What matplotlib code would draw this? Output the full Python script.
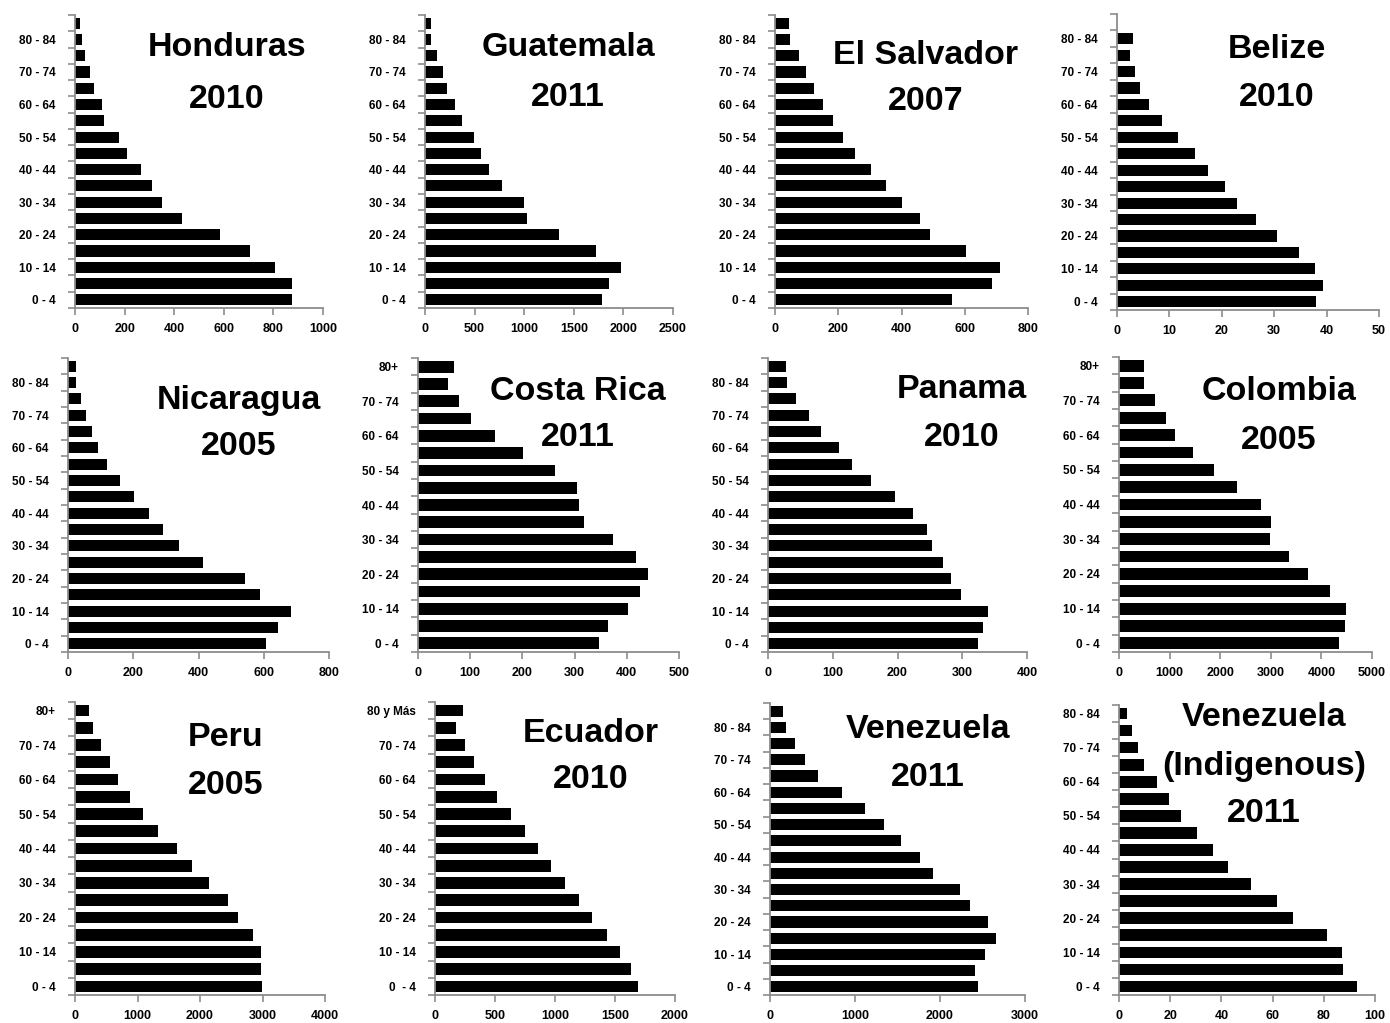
import numpy as np
import matplotlib
matplotlib.use("Agg")
import matplotlib.pyplot as plt

plt.rcParams['font.family'] = ['Liberation Sans', 'DejaVu Sans']

W, H = 1390, 1023

# age groups, bottom to top
ages18 = ["0 - 4", "5 - 9", "10 - 14", "15 - 19", "20 - 24", "25 - 29", "30 - 34",
          "35 - 39", "40 - 44", "45 - 49", "50 - 54", "55 - 59", "60 - 64",
          "65 - 69", "70 - 74", "75 - 79", "80 - 84", "85+"]
ages17_plus = ages18[:16] + ["80+"]
ages17_ec = ["0  - 4"] + ages18[1:16] + ["80 y Más"]
ages17 = ages18[:17]

honduras = [874, 874, 806, 707, 585, 431, 352, 309, 266, 211, 177, 117, 109, 78, 60, 42, 27, 22]
guatemala = [1788, 1855, 1979, 1727, 1351, 1028, 995, 776, 642, 565, 494, 376, 306, 222, 185, 124, 64, 60]
el_salvador = [559, 687, 710, 603, 489, 460, 403, 352, 303, 252, 214, 182, 151, 123, 97, 75, 46, 44]
belize = [37.9, 39.3, 37.8, 34.8, 30.6, 26.5, 22.9, 20.6, 17.3, 14.8, 11.7, 8.6, 6.2, 4.3, 3.4, 2.4, 3.0, 0]
nicaragua = [607, 643, 683, 587, 541, 413, 339, 292, 249, 203, 159, 120, 93, 73, 54, 40, 26, 26]
costa_rica = [347, 364, 402, 425, 441, 418, 374, 318, 309, 305, 262, 202, 147, 101, 79, 57, 69]
panama = [324, 332, 340, 298, 282, 270, 254, 245, 224, 196, 159, 130, 109, 82, 64, 43, 29, 28]
colombia = [4347, 4459, 4492, 4175, 3727, 3357, 2982, 2995, 2797, 2335, 1873, 1471, 1115, 930, 706, 501, 488]
peru = [2996, 2975, 2969, 2841, 2606, 2441, 2147, 1874, 1629, 1330, 1095, 876, 689, 561, 422, 283, 230]
ecuador = [1694, 1633, 1544, 1431, 1311, 1203, 1086, 964, 856, 747, 636, 519, 414, 325, 247, 175, 236]
venezuela = [2448, 2417, 2530, 2655, 2569, 2354, 2236, 1919, 1770, 1539, 1336, 1112, 846, 564, 415, 290, 184, 157]
venezuela_ind = [93.1, 87.4, 87.0, 81.2, 67.8, 61.7, 51.4, 42.6, 36.9, 30.3, 24.2, 19.4, 14.7, 9.6, 7.3, 4.9, 3.0]

# (title, values, labels, xmax, xstep, axes box px: left, right, top, bottom, title center x, title line y's)
panels = [
    ("Honduras\n2010", honduras, ages18, 1000, 200, (75, 323, 15, 308), 227, (48, 100)),
    ("Guatemala\n2011", guatemala, ages18, 2500, 500, (425, 673, 15, 308), 568, (48, 97)),
    ("El Salvador\n2007", el_salvador, ages18, 800, 200, (775, 1028, 15, 308), 926, (55, 102)),
    ("Belize\n2010", belize, ages18, 50, 10, (1117, 1379, 14, 310), 1277, (50, 97)),
    ("Nicaragua\n2005", nicaragua, ages18, 800, 200, (68, 329, 358, 652), 239, (400, 446)),
    ("Costa Rica\n2011", costa_rica, ages17_plus, 500, 100, (418, 679, 358, 652), 578, (391, 437)),
    ("Panama\n2010", panama, ages18, 400, 100, (768, 1027, 358, 652), 962, (390, 437)),
    ("Colombia\n2005", colombia, ages17_plus, 5000, 1000, (1119, 1372, 357, 652), 1279, (391, 440)),
    ("Peru\n2005", peru, ages17_plus, 4000, 1000, (75, 325, 702, 995), 226, (738, 785)),
    ("Ecuador\n2010", ecuador, ages17_ec, 2000, 500, (435, 675, 702, 995), 591, (733, 780)),
    ("Venezuela\n2011", venezuela, ages18, 3000, 1000, (770, 1025, 703, 995), 928, (729, 777)),
    ("Venezuela\n(Indigenous)\n2011", venezuela_ind, ages17, 100, 20, (1119, 1375, 705, 995), 1264, (717, 766, 813)),
]

fig = plt.figure(figsize=(W / 100, H / 100), dpi=100)
axis_col = "#8c8c8c"

for title, vals, labels, xmax, xstep, box, tx, tys in panels:
    l, r, t, b = box
    ax = fig.add_axes([l / W, 1 - b / H, (r - l) / W, (b - t) / H])
    n = len(vals)
    y = np.arange(n)
    ax.barh(y, vals, height=0.68, color="black")
    ax.set_xlim(0, xmax)
    ax.set_ylim(-0.5, n - 0.5)
    xt = np.arange(0, xmax + xstep / 2, xstep)
    ax.set_xticks(xt)
    ax.set_xticklabels([str(int(v)) for v in xt], fontsize=9, fontweight="bold")
    ax.set_yticks(y[::2])
    ax.set_yticklabels(labels[::2], fontsize=8.5, fontweight="bold")
    ax.set_yticks(np.arange(-0.5, n, 1), minor=True)
    ax.tick_params(axis="y", which="major", length=0, pad=14)
    ax.tick_params(axis="y", which="minor", length=5, color=axis_col, width=1.2)
    ax.tick_params(axis="x", length=5, color=axis_col, width=1.2, pad=6)
    for s in ("top", "right"):
        ax.spines[s].set_visible(False)
    for s in ("left", "bottom"):
        ax.spines[s].set_color(axis_col)
        ax.spines[s].set_linewidth(1.3)
    for line, ty in zip(title.split("\n"), tys):
        fig.text(tx / W, 1 - ty / H, line, ha="center", va="center",
                 fontsize=24.5, fontweight="bold")

fig.savefig("out.png", dpi=100)
